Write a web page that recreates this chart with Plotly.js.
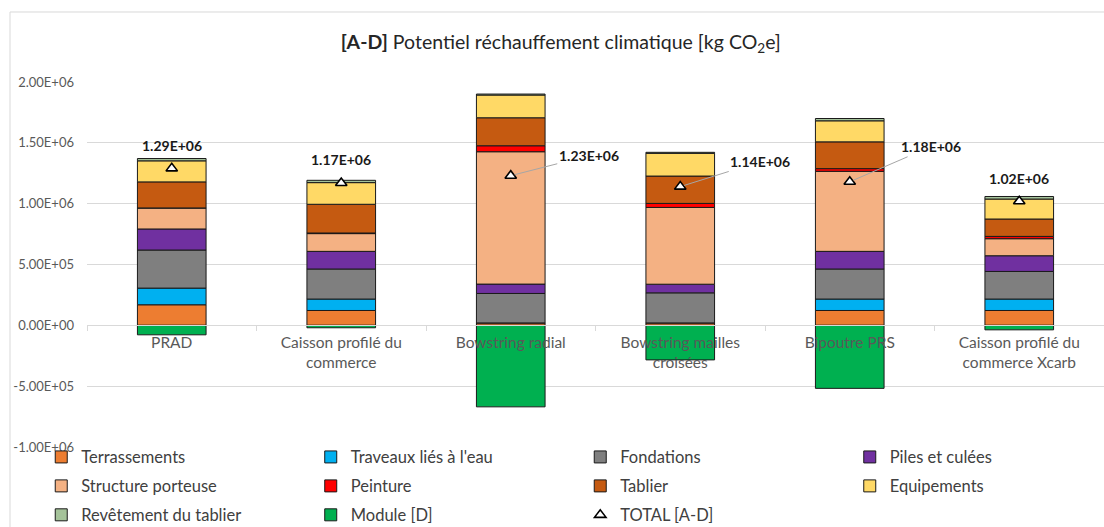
<!DOCTYPE html>
<html>
<head>
<meta charset="utf-8">
<script src="https://cdn.plot.ly/plotly-3.0.1.min.js"></script>
<style>html,body{margin:0;padding:0;background:#fff;}#chart{width:1104px;height:527px;}</style>
</head>
<body>
<div id="chart"></div>
<script>
// ---- data ----
const categories = ["PRAD", "Caisson profilé du<br>commerce", "Bowstring radial", "Bowstring mailles<br>croisées", "Bipoutre PRS", "Caisson profilé du<br>commerce Xcarb"];
const terrassements = [1.69e5, 1.22e5, 2.0e4, 2.0e4, 1.22e5, 1.22e5];
const travaux       = [1.37e5, 9.4e4, 0, 0, 9.4e4, 9.4e4];
const fondations    = [3.13e5, 2.47e5, 2.42e5, 2.47e5, 2.47e5, 2.27e5];
const piles         = [1.73e5, 1.45e5, 7.7e4, 7.1e4, 1.45e5, 1.29e5];
const structure     = [1.73e5, 1.46e5, 1.088e6, 6.31e5, 6.58e5, 1.40e5];
const peinture      = [0, 5e3, 4.9e4, 3.3e4, 2.2e4, 1.9e4];
const tablier       = [2.14e5, 2.36e5, 2.30e5, 2.25e5, 2.20e5, 1.43e5];
const equipements   = [1.73e5, 1.78e5, 1.87e5, 1.87e5, 1.73e5, 1.64e5];
const revetement    = [1.9e4, 1.9e4, 8e3, 8e3, 1.9e4, 2.1e4];
const moduleD       = [-7.8e4, -2.0e4, -6.70e5, -2.84e5, -5.18e5, -3.7e4];
const totals        = [1.29e6, 1.17e6, 1.23e6, 1.14e6, 1.18e6, 1.02e6];
const yTickVals     = [-1e6, -5e5, 0, 5e5, 1e6, 1.5e6, 2e6];

// ---- helpers ----
function fmtE(v) {
  const s = v.toExponential(2);
  let [m, e] = s.split("e");
  const sign = e[0] === "-" ? "-" : "+";
  e = e.replace(/^[+-]/, "");
  if (e.length < 2) e = "0" + e;
  return m + "E" + sign + e;
}

const FONT = "Lato, 'Liberation Sans', Arial, sans-serif";

// styling per series (kept separate from data)
const seriesDefs = [
  {name: "Terrassements",           y: terrassements, color: "#ED7D31", legend: "legend"},
  {name: "Traveaux liés à l'eau",   y: travaux,       color: "#00B0F0", legend: "legend2"},
  {name: "Fondations",              y: fondations,    color: "#7F7F7F", legend: "legend3"},
  {name: "Piles et culées",         y: piles,         color: "#7030A0", legend: "legend4"},
  {name: "Structure porteuse",      y: structure,     color: "#F4B183", legend: "legend"},
  {name: "Peinture",                y: peinture,      color: "#FF0000", legend: "legend2"},
  {name: "Tablier",                 y: tablier,       color: "#C55A11", legend: "legend3"},
  {name: "Equipements",             y: equipements,   color: "#FFD966", legend: "legend4"},
  {name: "Revêtement du tablier",   y: revetement,    color: "#A5C39A", legend: "legend"},
  {name: "Module [D]",              y: moduleD,       color: "#00B050", legend: "legend2"}
];

const traces = seriesDefs.map((s, i) => ({
  type: "bar",
  name: s.name,
  x: categories,
  y: s.y,
  width: 0.405,
  marker: {color: s.color, line: {color: "#1a1a1a", width: 1}},
  legend: s.legend,
  legendgroup: "g" + i,
  hoverinfo: "skip"
}));

traces.push({
  type: "scatter",
  mode: "markers",
  name: "TOTAL [A-D]",
  x: categories,
  y: totals,
  marker: {symbol: "triangle-up", size: 10, color: "#ffffff", line: {color: "#000000", width: 1.6}},
  legend: "legend3",
  legendgroup: "gT",
  hoverinfo: "skip"
});

// label placement (pixels) per category
const labelPlacement = [
  {ax: 0, ay: -23, arrow: false},
  {ax: 0, ay: -23, arrow: false},
  {ax: 78, ay: -20, arrow: true},
  {ax: 80, ay: -25, arrow: true},
  {ax: 81, ay: -35, arrow: true},
  {ax: 0, ay: -23, arrow: false}
];

const annotations = totals.map((t, i) => {
  const p = labelPlacement[i];
  const base = {
    x: categories[i], y: t, xref: "x", yref: "y",
    text: "<b>" + fmtE(t) + "</b>",
    font: {family: FONT, size: 14, color: "#1a1a1a"}
  };
  if (p.arrow) {
    return Object.assign(base, {showarrow: true, ax: p.ax, ay: p.ay, arrowhead: 0, arrowwidth: 1, arrowcolor: "#A6A6A6", standoff: 4});
  }
  return Object.assign(base, {showarrow: false, yshift: -p.ay});
});

const legendCommon = {
  orientation: "v",
  traceorder: "grouped",
  tracegroupgap: 4.5,
  font: {family: FONT, size: 16.5, color: "#404040"},
  bgcolor: "rgba(0,0,0,0)",
  itemwidth: 30,
  yanchor: "top",
  xanchor: "left",
  y: 0.02,
  itemclick: false
};

const layout = {
  width: 1104, height: 527,
  margin: {l: 87, r: 0, t: 82, b: 80, autoexpand: false},
  paper_bgcolor: "#ffffff",
  plot_bgcolor: "#ffffff",
  barmode: "relative",
  title: {
    text: "<b>[A-D]</b> Potentiel réchauffement climatique [kg CO<sub>2</sub>e]",
    font: {family: FONT, size: 19.5, color: "#262626"},
    xref: "container", x: 0.508, xanchor: "center",
    yref: "container", y: 0.92, yanchor: "middle"
  },
  xaxis: {
    type: "category",
    range: [-0.5, 5.5],
    anchor: "free",
    position: 1/3,
    showline: true, linecolor: "#D9D9D9", linewidth: 1,
    ticks: "outside", tickson: "boundaries", ticklen: 5, tickcolor: "#D9D9D9",
    ticklabelstandoff: 3,
    showgrid: false,
    tickfont: {family: FONT, size: 15.5, color: "#595959"},
    fixedrange: true
  },
  yaxis: {
    range: [-1e6, 2e6],
    tickvals: yTickVals,
    ticktext: yTickVals.map(fmtE),
    showgrid: true, gridcolor: "#D9D9D9", gridwidth: 1,
    zeroline: false,
    showline: false,
    ticks: "",
    ticklabelstandoff: 12,
    tickfont: {family: FONT, size: 13, color: "#595959"},
    fixedrange: true
  },
  showlegend: true,
  legend:  Object.assign({}, legendCommon, {x: -0.045}),
  legend2: Object.assign({}, legendCommon, {x: 0.22}),
  legend3: Object.assign({}, legendCommon, {x: 0.485}),
  legend4: Object.assign({}, legendCommon, {x: 0.75}),
  annotations: annotations,
  shapes: [{
    type: "rect", xref: "paper", yref: "paper",
    x0: -0.0757, x1: 1.2, y0: -0.5, y1: 1.1918,
    line: {color: "#D9D9D9", width: 1}, fillcolor: "rgba(0,0,0,0)", layer: "below"
  }]
};

Plotly.newPlot("chart", traces, layout, {staticPlot: true, displayModeBar: false});
</script>
</body>
</html>
